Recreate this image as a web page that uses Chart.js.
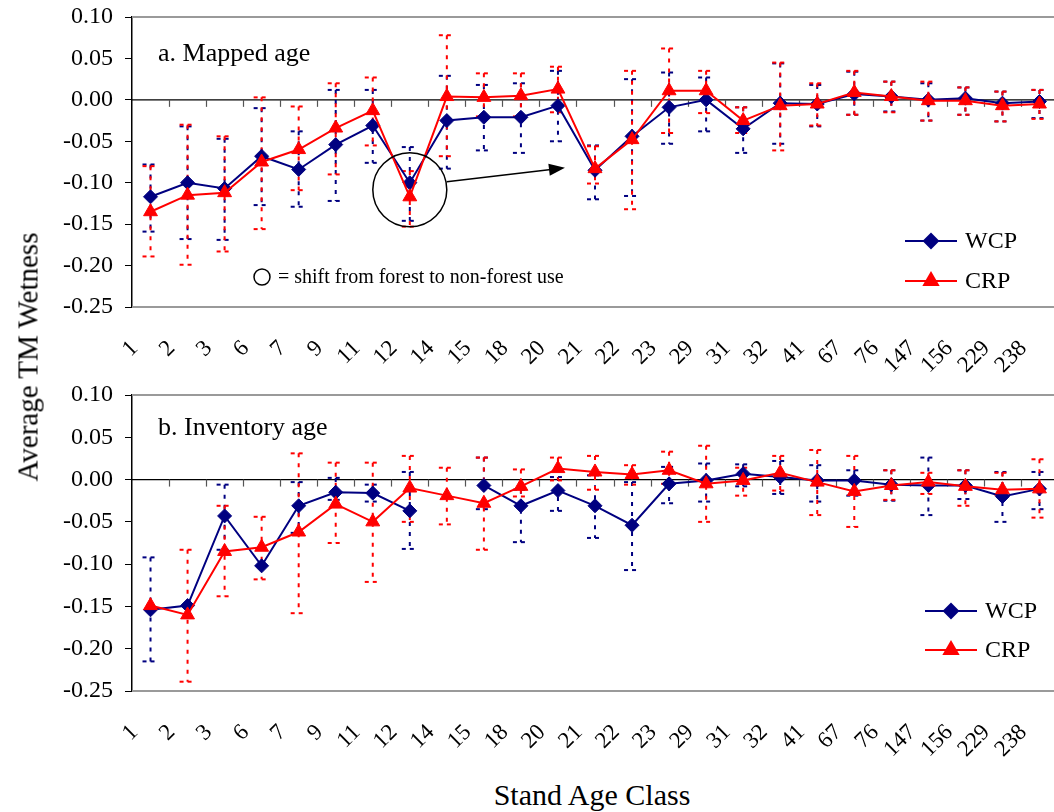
<!DOCTYPE html>
<html>
<head>
<meta charset="utf-8">
<script src="https://cdn.jsdelivr.net/npm/chart.js@4/dist/chart.umd.min.js"></script>
<style>
  html, body { margin: 0; padding: 0; background: #fff; overflow: hidden; }
  body { width: 1054px; height: 812px; position: relative; font-family: "Liberation Serif", "Times New Roman", serif; }
  .panel { position: absolute; left: 0; width: 1067px; height: 380px; }
  #yTitle { position: absolute; left: 28px; top: 357px; transform: translate(-50%, -50%) rotate(-90deg); font-size: 29px; white-space: nowrap; }
  #xTitle { position: absolute; left: 592px; top: 795px; transform: translate(-50%, -50%); font-size: 30px; white-space: nowrap; }
</style>
</head>
<body>
<div class="panel" style="top:0"><canvas id="mapped" width="1067" height="380"></canvas></div>
<div class="panel" style="top:380px"><canvas id="inventory" width="1067" height="380"></canvas></div>
<div id="yTitle">Average TM Wetness</div>
<div id="xTitle">Stand Age Class</div>
<script>
// stand age classes (x categories)
const ageClasses = ["1","2","3","6","7","9","11","12","14","15","18","20","21","22","23","29","31","32","41","67","76","147","156","229","238"];

// a. Mapped age
const mapWcp   = [-0.117,-0.100,-0.107,-0.068,-0.084,-0.054,-0.031,-0.100,-0.025,-0.021,-0.021,-0.007,-0.085,-0.044,-0.009, 0.000,-0.035,-0.004,-0.005, 0.007, 0.004, 0.000, 0.002,-0.004,-0.002];
const mapCrp   = [-0.135,-0.115,-0.112,-0.075,-0.060,-0.034,-0.013,-0.117, 0.004, 0.003, 0.005, 0.013,-0.083,-0.048, 0.011, 0.011,-0.025,-0.007,-0.005, 0.009, 0.004,-0.001,-0.001,-0.007,-0.005];
const mapWcpHi = [-0.078,-0.032,-0.047,-0.010,-0.038, 0.012, 0.012,-0.057, 0.029, 0.018, 0.020, 0.035,-0.055, 0.025, 0.033, 0.027,-0.009, 0.044, 0.018, 0.034, 0.022, 0.020, 0.015, 0.010, 0.012];
const mapWcpLo = [-0.159,-0.168,-0.169,-0.127,-0.129,-0.122,-0.076,-0.146,-0.083,-0.061,-0.064,-0.050,-0.120,-0.116,-0.053,-0.038,-0.064,-0.053,-0.032,-0.018,-0.014,-0.025,-0.018,-0.026,-0.022];
const mapCrpHi = [-0.080,-0.030,-0.044, 0.003,-0.008, 0.020, 0.027,-0.086, 0.078, 0.032, 0.032, 0.040,-0.056, 0.035, 0.062, 0.035,-0.009, 0.045, 0.020, 0.035, 0.022, 0.022, 0.015, 0.010, 0.012];
const mapCrpLo = [-0.189,-0.199,-0.183,-0.156,-0.109,-0.090,-0.055,-0.153,-0.068,-0.020,-0.020,-0.015,-0.101,-0.132,-0.040,-0.016,-0.040,-0.061,-0.031,-0.018,-0.015,-0.025,-0.018,-0.026,-0.023];

// b. Inventory age
const invWcp   = [-0.154,-0.149,-0.043,-0.102,-0.031,-0.015,-0.016,-0.037, null,-0.007,-0.031,-0.013,-0.031,-0.054,-0.005,-0.001, 0.007, 0.003,-0.001,-0.001,-0.006,-0.007,-0.007,-0.020,-0.011];
const invCrp   = [-0.149,-0.160,-0.085,-0.080,-0.062,-0.029,-0.050,-0.010,-0.019,-0.028,-0.008, 0.013, 0.009, 0.006, 0.011,-0.005,-0.001, 0.008,-0.003,-0.014,-0.007,-0.003,-0.008,-0.012,-0.011];
const invWcpHi = [-0.092, null,-0.006, null,-0.003, 0.002,-0.006, 0.009, null, 0.026,-0.012, 0.003, 0.005,-0.003, 0.015, 0.019, 0.018, 0.022, 0.017, 0.011, 0.011, 0.026, 0.011, 0.009, 0.009];
const invWcpLo = [-0.215, null,-0.083, null,-0.063,-0.024,-0.026,-0.082, null,-0.035,-0.074,-0.037,-0.069,-0.107,-0.028,-0.026,-0.008,-0.017,-0.026,-0.019,-0.025,-0.042,-0.023,-0.050,-0.035];
const invCrpHi = [ null,-0.083,-0.031,-0.044, 0.031, 0.020, 0.020, 0.028, 0.014, 0.026, 0.012, 0.026, 0.028, 0.017, 0.033, 0.040, 0.014, 0.028, 0.035, 0.028, 0.011, 0.008, 0.011, 0.008, 0.024];
const invCrpLo = [ null,-0.239,-0.138,-0.118,-0.158,-0.075,-0.121,-0.050,-0.053,-0.083,-0.020,-0.001,-0.012,-0.006,-0.005,-0.050,-0.019,-0.013,-0.042,-0.056,-0.024,-0.017,-0.031,-0.018,-0.045];

const yTicks = { min: -0.25, max: 0.10, step: 0.05 };

const NAVY = "#000080";
const RED = "#ff0000";
const SERIF = "'Liberation Serif', 'Times New Roman', serif";

function dashedLine(ctx, x1, y1, x2, y2, dash) {
    ctx.setLineDash(dash);
    ctx.beginPath();
    ctx.moveTo(x1, y1);
    ctx.lineTo(x2, y2);
    ctx.stroke();
}

// frame, zero axis, error bars, and the text bits
function panelPlugin(cfg) {
    return {
        id: "panel_" + cfg.label.charAt(0),
        beforeDatasetsDraw(chart) {
            const ctx = chart.ctx;
            const a = chart.chartArea;
            const xs = chart.scales.x, ys = chart.scales.y;
            ctx.save();
            // plot area border (grey)
            ctx.strokeStyle = "#9a9a9a";
            ctx.lineWidth = 2;
            ctx.setLineDash([]);
            ctx.beginPath();
            ctx.moveTo(a.left, a.top); ctx.lineTo(a.right, a.top);
            ctx.moveTo(a.left, a.bottom); ctx.lineTo(a.right, a.bottom);
            ctx.moveTo(a.right, a.top); ctx.lineTo(a.right, a.bottom);
            ctx.stroke();
            // zero line with category ticks
            const y0 = ys.getPixelForValue(0);
            ctx.strokeStyle = "#000";
            ctx.lineWidth = 1.2;
            dashedLine(ctx, a.left, y0, a.right, y0, []);
            const w = (a.right - a.left) / ageClasses.length;
            ctx.strokeStyle = "#555";
            for (let k = 1; k < ageClasses.length; k++) {
                const x = Math.round(a.left + k * w) + 0.5;
                dashedLine(ctx, x, y0, x, y0 + 7, []);
            }
            // error bars
            cfg.errors.forEach(e => {
                ctx.strokeStyle = e.color;
                ctx.lineWidth = 2;
                for (let i = 0; i < ageClasses.length; i++) {
                    if (e.hi[i] == null || e.lo[i] == null) continue;
                    const x = xs.getPixelForValue(i);
                    const yh = ys.getPixelForValue(e.hi[i]);
                    const yl = ys.getPixelForValue(e.lo[i]);
                    dashedLine(ctx, x, yh, x, yl, [4, 6]);
                    dashedLine(ctx, x - 8, yh, x + 8, yh, [4, 4]);
                    dashedLine(ctx, x - 8, yl, x + 8, yl, [4, 4]);
                }
            });
            ctx.restore();
        },
        afterDatasetsDraw(chart) {
            const ctx = chart.ctx;
            const xs = chart.scales.x, ys = chart.scales.y;
            ctx.save();
            ctx.setLineDash([]);
            ctx.fillStyle = "#000";
            ctx.textBaseline = "alphabetic";
            ctx.font = "26px " + SERIF;
            ctx.fillText(cfg.label, cfg.labelX, cfg.labelY);

            // legend
            const L = cfg.legend;
            [{ name: "WCP", color: NAVY, style: "rectRot", r: 7, dy: 0 },
             { name: "CRP", color: RED, style: "triangle", r: 8, dy: L.gap }].forEach(s => {
                const y = L.y + s.dy;
                ctx.strokeStyle = s.color;
                ctx.fillStyle = s.color;
                ctx.lineWidth = 2;
                dashedLine(ctx, L.x, y, L.x + 52, y, []);
                Chart.helpers.drawPoint(ctx, { pointStyle: s.style, radius: s.r, rotation: 0, borderWidth: 1 }, L.x + 26, y);
                ctx.fillStyle = "#000";
                ctx.font = "24px " + SERIF;
                ctx.textBaseline = "middle";
                ctx.fillText(s.name, L.x + 60, y + 1);
            });

            if (cfg.shift) {
                // circle round the 12-year point and arrow to the 21-year point
                const cx = xs.getPixelForValue(7), cy = ys.getPixelForValue(-0.1085);
                ctx.strokeStyle = "#000";
                ctx.lineWidth = 1.5;
                ctx.beginPath();
                ctx.arc(cx, cy, 37, 0, Math.PI * 2);
                ctx.stroke();
                const tx = cx + 37, ty = cy - 8;
                const hx = xs.getPixelForValue(11) + 7, hy = ys.getPixelForValue(-0.082);
                const ang = Math.atan2(hy - ty, hx - tx);
                dashedLine(ctx, tx, ty, hx - 14 * Math.cos(ang), hy - 14 * Math.sin(ang), []);
                ctx.fillStyle = "#000";
                ctx.beginPath();
                ctx.moveTo(hx, hy);
                ctx.lineTo(hx - 16 * Math.cos(ang) + 6 * Math.sin(ang), hy - 16 * Math.sin(ang) - 6 * Math.cos(ang));
                ctx.lineTo(hx - 16 * Math.cos(ang) - 6 * Math.sin(ang), hy - 16 * Math.sin(ang) + 6 * Math.cos(ang));
                ctx.closePath();
                ctx.fill();
                // note
                ctx.lineWidth = 1.5;
                ctx.beginPath();
                ctx.arc(262, 277, 8, 0, Math.PI * 2);
                ctx.stroke();
                ctx.font = "20px " + SERIF;
                ctx.textBaseline = "middle";
                ctx.fillText("= shift from forest to non-forest use", 278, 278);
            }
            ctx.restore();
        }
    };
}

function makeChart(id, wcp, crp, cfg, padTop, xHeight) {
    return new Chart(document.getElementById(id), {
        type: "line",
        data: {
            labels: ageClasses,
            datasets: [
                {
                    label: "WCP",
                    data: wcp,
                    borderColor: NAVY,
                    backgroundColor: NAVY,
                    borderWidth: 2,
                    pointStyle: "rectRot",
                    pointRadius: 7,
                    pointBorderWidth: 1,
                    spanGaps: false,
                    order: 2,
                },
                {
                    label: "CRP",
                    data: crp,
                    borderColor: RED,
                    backgroundColor: RED,
                    borderWidth: 2,
                    pointStyle: "triangle",
                    pointRadius: 8,
                    pointBorderWidth: 1,
                    order: 1,
                }
            ],
        },
        options: {
            responsive: false,
            animation: false,
            layout: { padding: { top: padTop, right: 3, left: 0, bottom: 0 } },
            plugins: { legend: { display: false }, tooltip: { enabled: false } },
            scales: {
                x: {
                    offset: true,
                    grid: { display: false, drawTicks: false },
                    border: { display: false },
                    ticks: {
                        autoSkip: false,
                        minRotation: 45,
                        maxRotation: 45,
                        padding: 28,
                        labelOffset: -16,
                        color: "#000",
                        font: { family: SERIF, size: 23 },
                    },
                    afterFit(scale) {
                        scale.height = xHeight;
                        scale.paddingLeft = 0;
                        scale.paddingRight = 0;
                    },
                },
                y: {
                    min: yTicks.min,
                    max: yTicks.max,
                    grid: { drawOnChartArea: false, drawTicks: true, tickLength: 7, color: "#000" },
                    border: { display: true, color: "#000", width: 1.5 },
                    ticks: {
                        stepSize: yTicks.step,
                        padding: 12,
                        color: "#000",
                        font: { family: SERIF, size: 24 },
                        callback: (v) => Math.abs(v) < 1e-9 ? "0.00" : Number(v).toFixed(2),
                    },
                    afterFit(scale) {
                        scale.width = 132;
                        scale.paddingTop = 0;
                        scale.paddingBottom = 0;
                    },
                },
            },
        },
        plugins: [panelPlugin(cfg)],
    });
}

makeChart("mapped", mapWcp, mapCrp, {
    label: "a. Mapped age", labelX: 158, labelY: 61,
    legend: { x: 905, y: 241, gap: 40 },
    shift: true,
    errors: [
        { color: NAVY, hi: mapWcpHi, lo: mapWcpLo },
        { color: RED, hi: mapCrpHi, lo: mapCrpLo },
    ],
}, 17, 73);

makeChart("inventory", invWcp, invCrp, {
    label: "b. Inventory age", labelX: 158, labelY: 55,
    legend: { x: 925, y: 231, gap: 39 },
    shift: false,
    errors: [
        { color: NAVY, hi: invWcpHi, lo: invWcpLo },
        { color: RED, hi: invCrpHi, lo: invCrpLo },
    ],
}, 15, 69);
</script>
</body>
</html>
